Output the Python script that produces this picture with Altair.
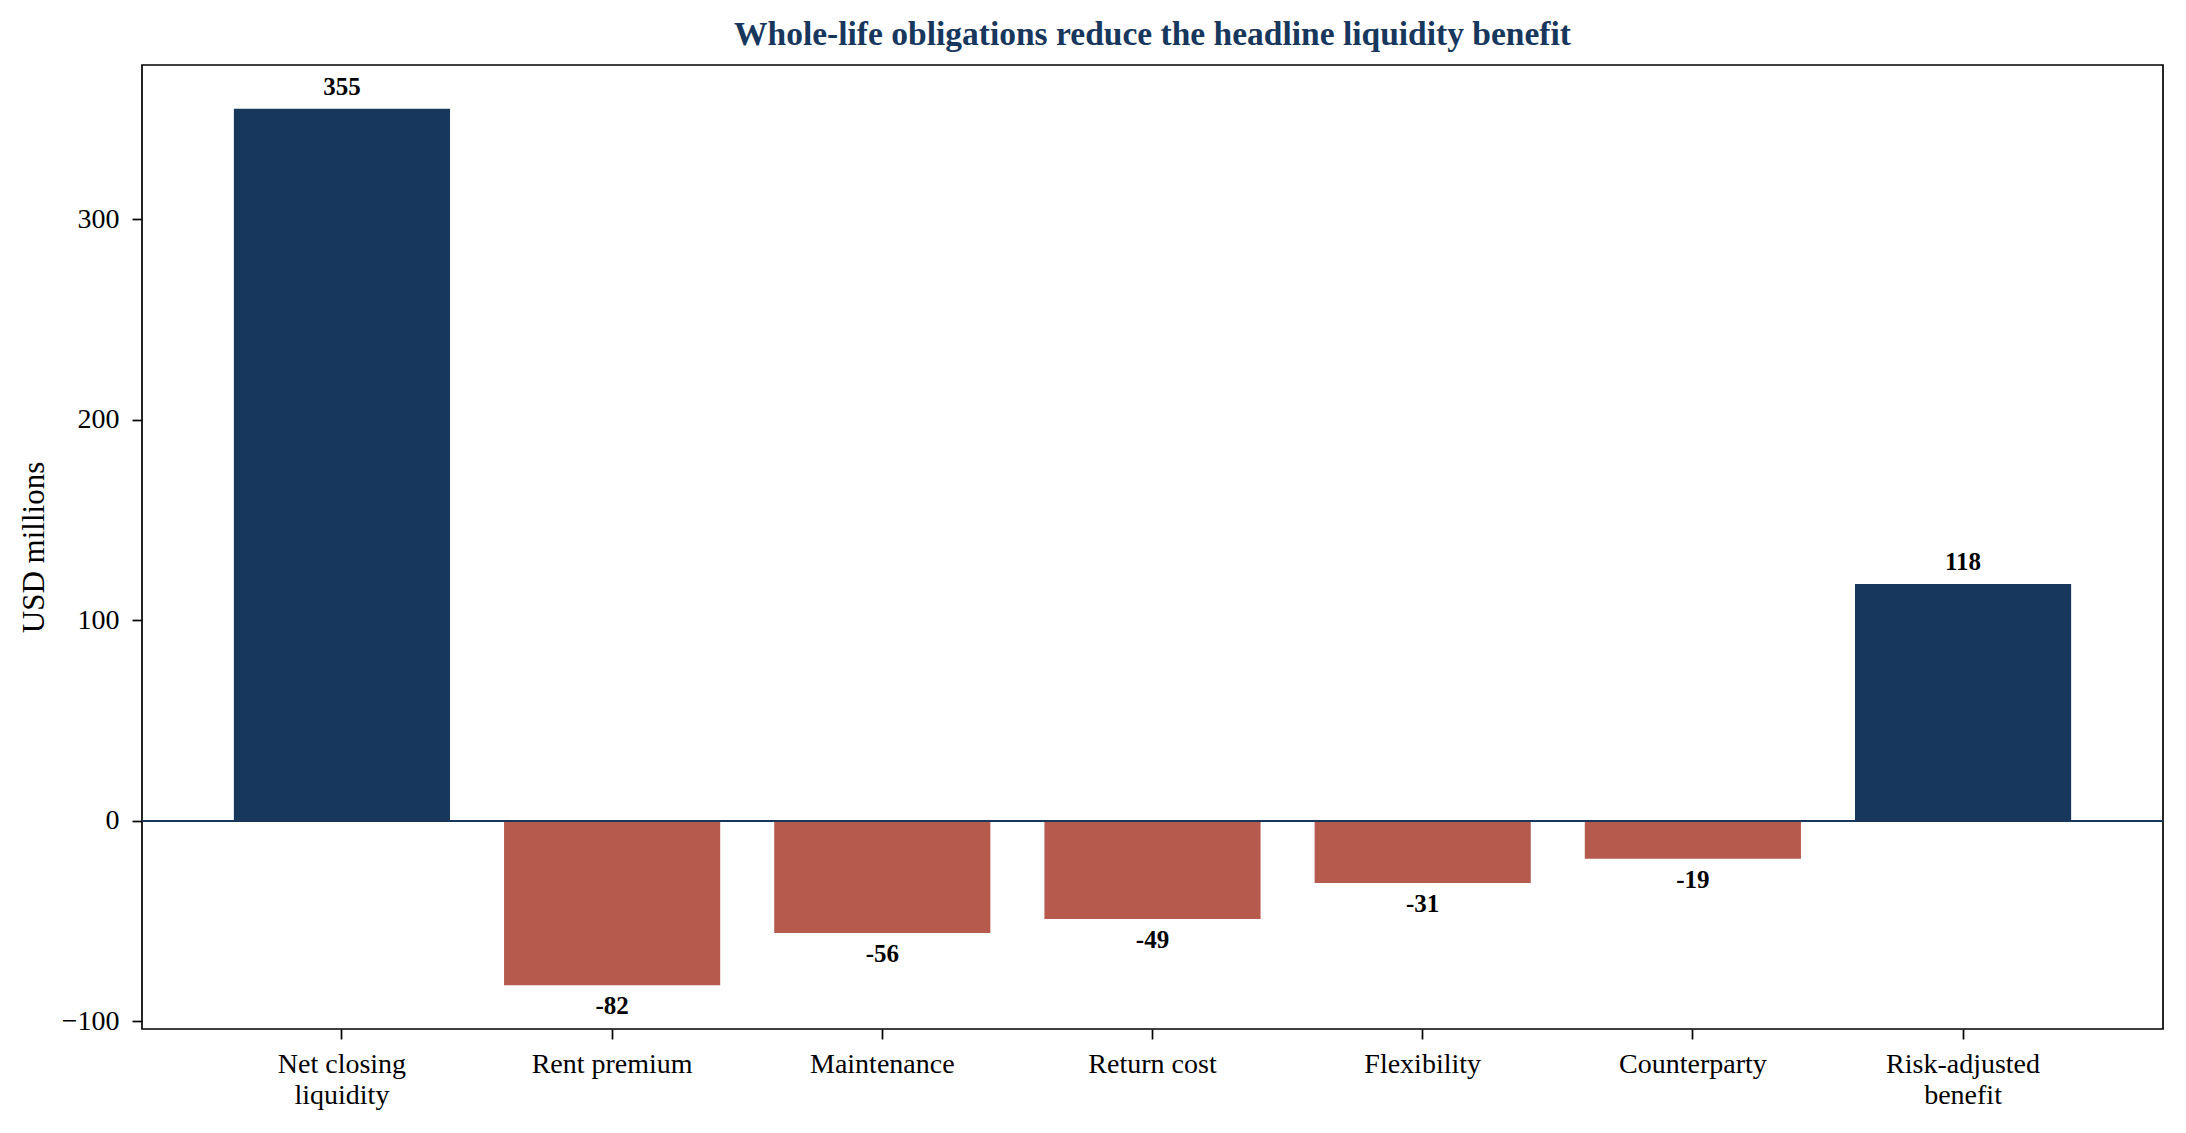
import altair as alt
import pandas as pd

categories = ["Net closing\nliquidity", "Rent premium", "Maintenance", "Return cost",
              "Flexibility", "Counterparty", "Risk-adjusted\nbenefit"]
values = [355, -82, -56, -49, -31, -19, 118]
kinds = ["total", "cost", "cost", "cost", "cost", "cost", "total"]

df = pd.DataFrame({"cat": categories, "value": values, "kind": kinds})

NAVY = "#18375d"
RED = "#b55a4c"
FONT = "Liberation Serif"

x = alt.X("cat:N", sort=categories, title=None,
          scale=alt.Scale(paddingInner=0.2, paddingOuter=0.34),
          axis=alt.Axis(labelAngle=0, labelExpr="split(datum.label, '\\n')",
                        labelLineHeight=31, labelPadding=11, labelBaseline="top"))
y = alt.Y("value:Q", title="USD millions",
          scale=alt.Scale(domain=[-103.85, 376.85], nice=False, zero=False),
          axis=alt.Axis(values=[-100, 0, 100, 200, 300], labelPadding=13, titlePadding=11))

base = alt.Chart(df)

bars = base.mark_bar().encode(
    x=x,
    y=y,
    y2=alt.datum(0),
    color=alt.Color("kind:N", scale=alt.Scale(domain=["total", "cost"], range=[NAVY, RED]), legend=None),
)

zero = base.mark_rule(color=NAVY, strokeWidth=1.6).encode(y=alt.datum(0))

pos_labels = base.transform_filter("datum.value >= 0").transform_calculate(
    lbl="toString(datum.value)"
).mark_text(baseline="alphabetic", dy=-14, fontWeight="bold", fontSize=25, font=FONT, color="black").encode(
    x=x, y=y, text="lbl:N"
)

neg_labels = base.transform_filter("datum.value < 0").transform_calculate(
    lbl="toString(datum.value)"
).mark_text(baseline="alphabetic", dy=29, fontWeight="bold", fontSize=25, font=FONT, color="black").encode(
    x=x, y=y, text="lbl:N"
)

chart = alt.layer(bars, zero, pos_labels, neg_labels).properties(
    width=2021,
    height=964,
    title=alt.TitleParams("Whole-life obligations reduce the headline liquidity benefit",
                          font=FONT, fontSize=33.5, fontWeight="bold", color=NAVY,
                          anchor="middle", offset=13),
    padding={"left": 10, "top": 9, "right": 10, "bottom": 5},
).configure_view(
    stroke="black", strokeWidth=1.7
).configure_axis(
    domain=False, grid=False, ticks=True, tickColor="black", tickWidth=1.7, tickSize=10,
    labelFont=FONT, labelFontSize=28, labelColor="black",
    titleFont=FONT, titleFontSize=31, titleFontWeight="normal", titleColor="black",
)

chart.save("out.html", embed_options={"renderer": "svg", "actions": False})
